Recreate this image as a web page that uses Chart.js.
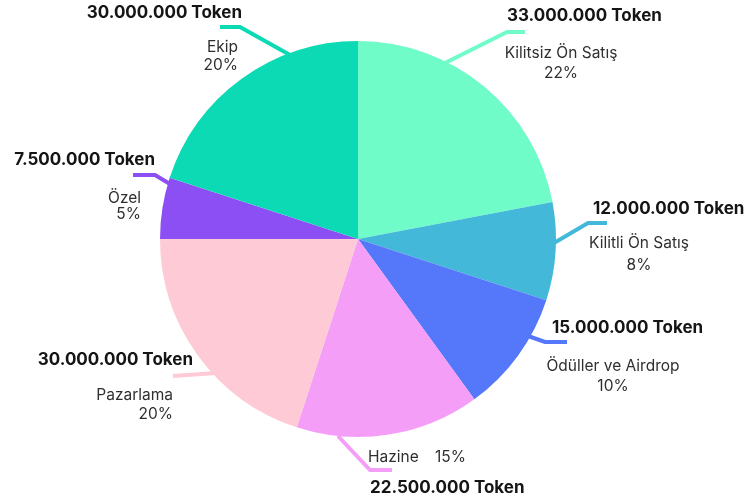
<!DOCTYPE html>
<html>
<head>
<meta charset="utf-8">
<script src="https://cdn.jsdelivr.net/npm/chart.js@4.4.1/dist/chart.umd.min.js"></script>
<style>
    html, body { margin: 0; padding: 0; background: #ffffff; }
    #wrap { width: 747px; height: 503px; }
</style>
</head>
<body>
<div id="wrap"><canvas id="tokenChart"></canvas></div>
<script>
const categories = ['Kilitsiz Ön Satış', 'Kilitli Ön Satış', 'Ödüller ve Airdrop', 'Hazine', 'Pazarlama', 'Özel', 'Ekip'];
const percentages = [22, 8, 10, 15, 20, 5, 20];
const tokenAmounts = ['33.000.000 Token', '12.000.000 Token', '15.000.000 Token', '22.500.000 Token', '30.000.000 Token', '7.500.000 Token', '30.000.000 Token'];
const sliceColors = ['#70fcc8', '#44b8d8', '#5577fa', '#f59ef8', '#fecad6', '#8c4ff4', '#0bdab5'];

// leader line points and text anchors for each slice (same order as categories)
const calloutLayout = [
    { line: [[445, 63], [507, 32], [525, 32]], title: [507, 16, 'left'], label: [561, 53, 'center'], pct: [561, 73, 'center'] },
    { line: [[554, 243], [588, 223], [607, 223]], title: [593, 209, 'left'], label: [639, 243, 'center'], pct: [639, 265, 'center'] },
    { line: [[528, 336], [545, 342], [567, 342]], title: [552, 328, 'left'], label: [613, 366, 'center'], pct: [613, 386, 'center'] },
    { line: [[338, 436], [370, 470], [392, 470]], title: [370, 488, 'left'], label: [368, 457, 'left'], pct: [435, 457, 'left'] },
    { line: [[216, 373], [173, 376]], title: [193, 360, 'right'], label: [173, 395, 'right'], pct: [173, 414, 'right'] },
    { line: [[170, 184], [155, 175], [133, 175]], title: [155, 160, 'right'], label: [141, 198, 'right'], pct: [141, 214, 'right'] },
    { line: [[290, 55], [240, 27], [220, 27]], title: [242, 13, 'right'], label: [238, 47, 'right'], pct: [238, 65, 'right'] }
];

const calloutPlugin = {
    id: 'callouts',
    afterDraw(chart) {
        const ctx = chart.ctx;
        ctx.save();
        calloutLayout.forEach((c, i) => {
            ctx.strokeStyle = sliceColors[i];
            ctx.lineWidth = 4;
            ctx.beginPath();
            c.line.forEach((p, j) => j === 0 ? ctx.moveTo(p[0], p[1]) : ctx.lineTo(p[0], p[1]));
            ctx.stroke();

            ctx.textBaseline = 'middle';
            ctx.fillStyle = '#151515';
            ctx.font = 'bold 17px Inter, "Open Sans", sans-serif';
            ctx.textAlign = c.title[2];
            ctx.fillText(tokenAmounts[i], c.title[0], c.title[1]);

            ctx.fillStyle = '#2f2f2f';
            ctx.font = '15.5px Inter, "Open Sans", sans-serif';
            ctx.textAlign = c.label[2];
            ctx.fillText(categories[i], c.label[0], c.label[1]);
            ctx.textAlign = c.pct[2];
            ctx.fillText(percentages[i] + '%', c.pct[0], c.pct[1]);
        });
        ctx.restore();
    }
};

document.addEventListener('DOMContentLoaded', () => {
    const ctx = document.getElementById('tokenChart').getContext('2d');
    new Chart(ctx, {
        type: 'pie',
        data: {
            labels: categories,
            datasets: [{
                data: percentages,
                backgroundColor: sliceColors,
                borderWidth: 0
            }]
        },
        options: {
            responsive: true,
            maintainAspectRatio: false,
            animation: false,
            layout: {
                padding: { left: 0, right: 31, top: 41, bottom: 66 }
            },
            plugins: {
                legend: { display: false },
                tooltip: { enabled: false }
            }
        },
        plugins: [calloutPlugin]
    });
});
</script>
</body>
</html>
